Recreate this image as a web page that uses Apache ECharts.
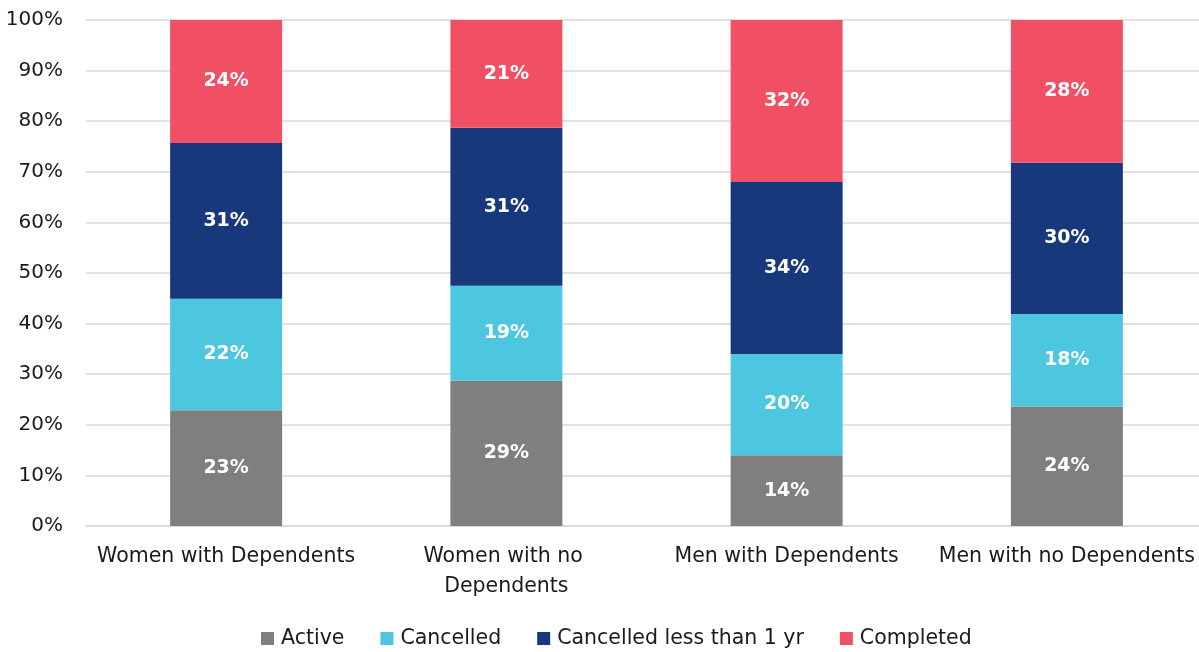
<!DOCTYPE html>
<html>
<head>
<meta charset="utf-8">
<script src="https://cdn.jsdelivr.net/npm/echarts@6/dist/echarts.min.js"></script>
<style>
html,body{margin:0;padding:0;background:#fff;overflow:hidden;}
#chart{width:1207px;height:652px;}
</style>
</head>
<body>
<div id="chart"></div>
<script>
const categories = ["Women with Dependents", "Women with no Dependents", "Men with Dependents", "Men with no Dependents"];
const active = [22.9, 28.7, 14.0, 23.6];
const cancelled = [22.0, 18.8, 20.0, 18.3];
const cancelledLess1yr = [30.8, 31.2, 34.0, 29.9];
const completed = [24.3, 21.3, 32.0, 28.2];
const yTicks = [0, 10, 20, 30, 40, 50, 60, 70, 80, 90, 100];

const FONT = "DejaVu Sans";
const chart = echarts.init(document.getElementById('chart'));

function mk(name, data, color) {
  return {
    name: name, type: 'bar', stack: 'total', data: data, barWidth: 112,
    itemStyle: { color: color },
    label: {
      show: true, position: 'inside', color: '#fff', fontWeight: 'bold',
      fontFamily: FONT, fontSize: 19,
      formatter: p => Math.round(p.value) + '%'
    }
  };
}

chart.setOption({
  animation: false,
  textStyle: { fontFamily: FONT },
  grid: { left: 86, right: 0, top: 20, bottom: 126, containLabel: false },
  legend: {
    bottom: -2, left: 256, itemWidth: 13, itemHeight: 13, itemGap: 36,
    icon: 'rect',
    textStyle: { fontFamily: FONT, fontSize: 20.5, color: '#1a1a1a', padding: [0, 0, 0, 2] },
    data: ['Active', 'Cancelled', 'Cancelled less than 1 yr', 'Completed']
  },
  xAxis: {
    type: 'category', data: categories,
    axisLine: { show: true, lineStyle: { color: '#d9d9d9', width: 1.5 } },
    axisTick: { show: false },
    axisLabel: {
      fontFamily: FONT, fontSize: 20.5, color: '#1a1a1a', margin: 16,
      lineHeight: 30, width: 272, overflow: 'break', interval: 0
    }
  },
  yAxis: {
    type: 'value', min: yTicks[0], max: yTicks[yTicks.length - 1], interval: 10,
    axisLine: { show: false }, axisTick: { show: false },
    splitLine: { lineStyle: { color: '#d9d9d9', width: 1.5 } },
    axisLabel: { fontFamily: FONT, fontSize: 20, color: '#1a1a1a', margin: 23, formatter: '{value}%' }
  },
  series: [
    mk('Active', active, '#7f7f7f'),
    mk('Cancelled', cancelled, '#4dc6df'),
    mk('Cancelled less than 1 yr', cancelledLess1yr, '#17387a'),
    mk('Completed', completed, '#f04f64')
  ]
});
</script>
</body>
</html>
